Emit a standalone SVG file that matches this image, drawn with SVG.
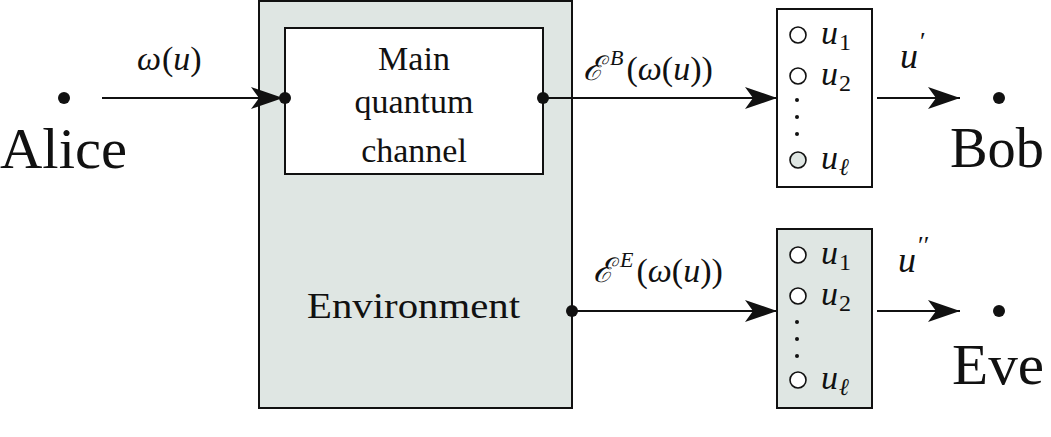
<svg xmlns="http://www.w3.org/2000/svg" width="1051" height="437" viewBox="0 0 1051 437">
<style>
  .rm { fill: #111; }
  .it { font-style: italic; fill: #111; }
  .box { stroke: #111; stroke-width: 2; }
  .gray { fill: #dfe6e3; }
  .white { fill: #ffffff; }
  .conn { stroke: #111; stroke-width: 2; fill: none; }
  .dot { fill: #111; }
  .ring { stroke: #111; stroke-width: 1.6; }
</style>
<defs>
  <marker id="stealth" markerUnits="userSpaceOnUse" markerWidth="34" markerHeight="24" refX="32" refY="11" orient="auto" viewBox="0 0 34 24">
    <path d="M32,11 L0,0 L8,11 L0,22 Z" fill="#111"/>
  </marker>
</defs>
<g font-family="'Liberation Serif', 'DejaVu Serif', 'Times New Roman', serif">
<g id="alice">
  <circle class="dot" cx="64" cy="98" r="6"/>
  <text class="rm" x="0" y="168" font-size="56" textLength="127" lengthAdjust="spacingAndGlyphs">Alice</text>
</g>

<g id="environment">
  <rect class="box gray" x="259" y="1" width="313" height="407"/>
  <text class="rm" x="307" y="318" font-size="36" textLength="213" lengthAdjust="spacingAndGlyphs">Environment</text>
  <circle class="dot" cx="572" cy="311" r="6"/>
</g>

<g id="main-channel">
  <rect class="box white" x="285" y="28" width="258" height="146"/>
  <text class="rm" x="414" y="70" font-size="34" text-anchor="middle">Main</text>
  <text class="rm" x="414" y="113" font-size="34" text-anchor="middle">quantum</text>
  <text class="rm" x="414" y="162" font-size="34" text-anchor="middle">channel</text>
  <circle class="dot" cx="285" cy="98" r="6"/>
  <circle class="dot" cx="543" cy="98" r="6"/>
</g>

<g id="bob-decoder">
  <rect class="box white" x="777" y="9" width="95" height="178"/>
  <circle class="ring white" cx="798" cy="35" r="8"/>
  <circle class="ring white" cx="798" cy="76" r="8"/>
  <circle class="dot" cx="797" cy="100" r="2"/>
  <circle class="dot" cx="797" cy="117" r="2"/>
  <circle class="dot" cx="797" cy="134" r="2"/>
  <circle class="ring gray" cx="798" cy="160" r="8"/>
  <text class="it" x="821" y="44" font-size="34">u<tspan font-style="normal" font-size="24" dx="1" dy="6">1</tspan></text>
  <text class="it" x="821" y="85" font-size="34">u<tspan font-style="normal" font-size="24" dx="1" dy="6">2</tspan></text>
  <text class="it" x="821" y="169" font-size="34">u<tspan font-size="24" dx="1" dy="6">ℓ</tspan></text>
</g>

<g id="eve-decoder">
  <rect class="box gray" x="777" y="229" width="95" height="179"/>
  <circle class="ring white" cx="798" cy="255" r="8"/>
  <circle class="ring white" cx="798" cy="296" r="8"/>
  <circle class="dot" cx="797" cy="322" r="2"/>
  <circle class="dot" cx="797" cy="339" r="2"/>
  <circle class="dot" cx="797" cy="356" r="2"/>
  <circle class="ring white" cx="798" cy="380" r="8"/>
  <text class="it" x="821" y="264" font-size="34">u<tspan font-style="normal" font-size="24" dx="1" dy="6">1</tspan></text>
  <text class="it" x="821" y="305" font-size="34">u<tspan font-style="normal" font-size="24" dx="1" dy="6">2</tspan></text>
  <text class="it" x="821" y="389" font-size="34">u<tspan font-size="24" dx="1" dy="6">ℓ</tspan></text>
</g>

<g id="bob">
  <circle class="dot" cx="999" cy="98" r="6"/>
  <text class="rm" x="950" y="167" font-size="56" textLength="94" lengthAdjust="spacingAndGlyphs">Bob</text>
</g>

<g id="eve">
  <circle class="dot" cx="999" cy="311" r="6"/>
  <text class="rm" x="952" y="384" font-size="56" textLength="92" lengthAdjust="spacingAndGlyphs">Eve</text>
</g>

<g id="connectors">
  <line class="conn" x1="102" y1="98" x2="283" y2="98" marker-end="url(#stealth)"/>
  <line class="conn" x1="543" y1="98" x2="777" y2="98" marker-end="url(#stealth)"/>
  <line class="conn" x1="877" y1="98" x2="960" y2="98" marker-end="url(#stealth)"/>
  <line class="conn" x1="572" y1="311" x2="777" y2="311" marker-end="url(#stealth)"/>
  <line class="conn" x1="877" y1="311" x2="960" y2="311" marker-end="url(#stealth)"/>
  <text class="it" x="137" y="70" font-size="34">ω<tspan font-style="normal" dx="1">(</tspan>u<tspan font-style="normal">)</tspan></text>
  <text class="it" x="583" y="80" font-size="34">ℰ<tspan font-size="22" dx="6" dy="-15">B</tspan><tspan font-style="normal" dx="3" dy="15">(</tspan>ω<tspan font-style="normal">(</tspan>u<tspan font-style="normal">))</tspan></text>
  <text class="it" x="593" y="282" font-size="34">ℰ<tspan font-size="22" dx="6" dy="-15">E</tspan><tspan font-style="normal" dx="3" dy="15">(</tspan>ω<tspan font-style="normal">(</tspan>u<tspan font-style="normal">))</tspan></text>
  <text class="it" x="900" y="68" font-size="36">u<tspan font-style="normal" font-size="26" dx="2" dy="-18">′</tspan></text>
  <text class="it" x="898" y="272" font-size="36">u<tspan font-style="normal" font-size="26" dx="2" dy="-18">′′</tspan></text>
</g>
</g>
</svg>
